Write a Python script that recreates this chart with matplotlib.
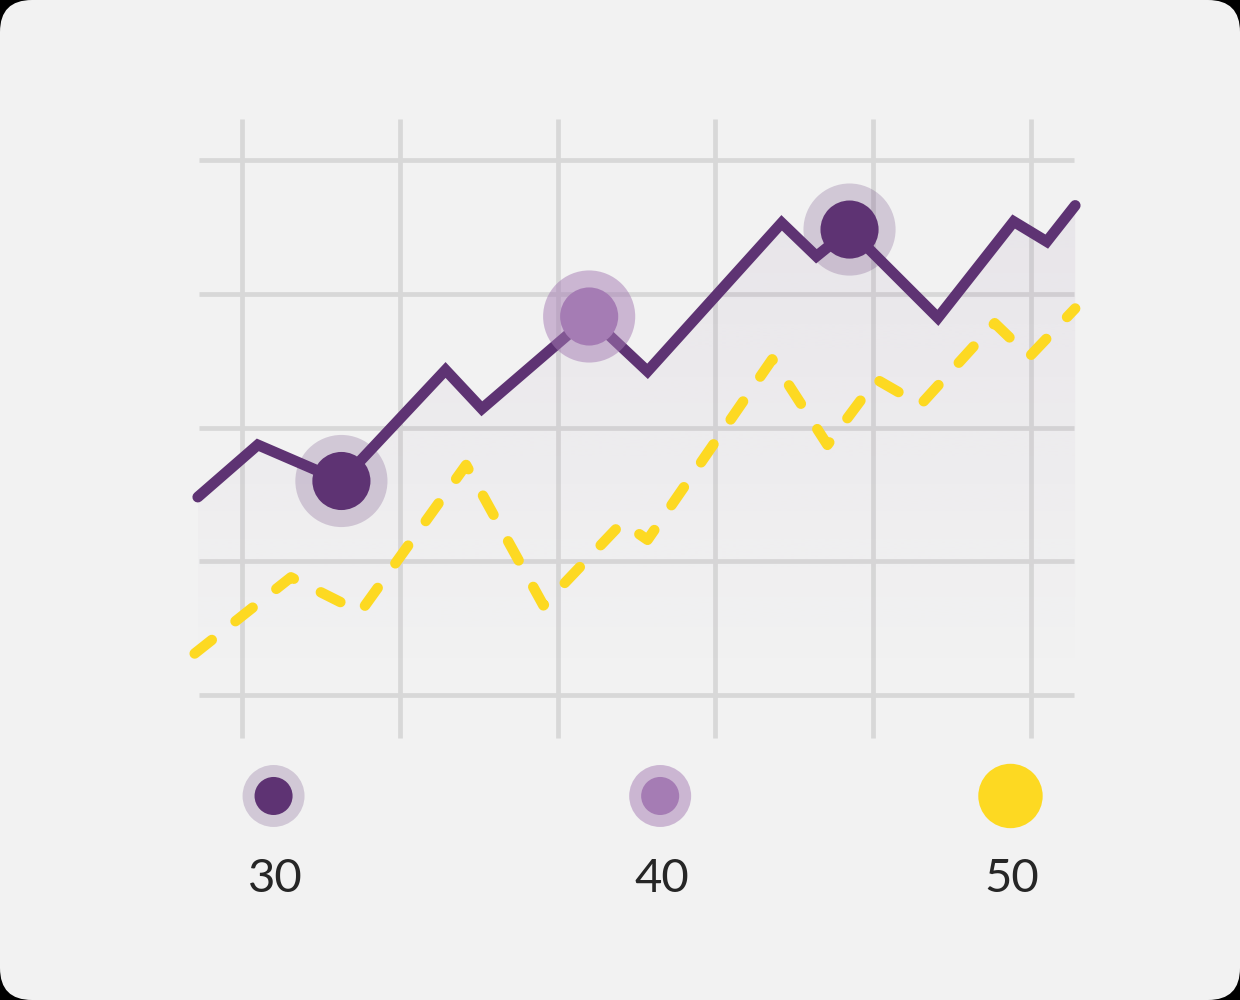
import matplotlib
matplotlib.use("Agg")
import matplotlib.pyplot as plt
import numpy as np
from matplotlib.patches import FancyBboxPatch, Polygon

# ---- data (grid units: x column index, y row index) ----
purple_x = [-0.28, 0.10, 0.63, 1.29, 1.52, 2.20, 2.57, 3.42, 3.64, 3.85, 4.41, 4.89, 5.10, 5.28]
purple_y = [1.48, 1.87, 1.60, 2.43, 2.14, 2.83, 2.42, 3.53, 3.28, 3.48, 2.82, 3.54, 3.39, 3.66]
yellow_x = [-0.30, 0.31, 0.75, 1.42, 1.91, 2.41, 2.57, 3.36, 3.71, 4.02, 4.30, 4.77, 4.99, 5.28]
yellow_y = [0.31, 0.88, 0.62, 1.72, 0.67, 1.29, 1.16, 2.51, 1.87, 2.36, 2.17, 2.78, 2.53, 2.89]
highlight_idx = [2, 5, 9]
highlight_kind = ["dark", "light", "dark"]
legend_labels = ["30", "40", "50"]
legend_x = [0.20, 2.65, 4.87]
legend_kind = ["dark", "light", "yellow"]
grid_x = [0, 1, 2, 3, 4, 5]
grid_y = [0, 1, 2, 3, 4]

DARK = "#5e3373"
LIGHT = "#a57cb4"
YELLOW = "#fdd922"
GRID = "#d8d8d8"
BG = "#f2f2f2"

fig = plt.figure(figsize=(12.4, 10), dpi=100, facecolor="black")
bg = FancyBboxPatch((0, 0), 12.4, 10, boxstyle="round,pad=0,rounding_size=0.32",
                    transform=fig.dpi_scale_trans, facecolor=BG, edgecolor="none", zorder=-10)
fig.patches.append(bg)

ax = fig.add_axes([0, 0, 1, 1], zorder=1)
ax.set_facecolor("none")
ax.set_xlim(-242 / 157.8, (1240 - 242) / 157.8)
ax.set_ylim(-305 / 133.75, 695 / 133.75)
ax.axis("off")

# grid
for gx in grid_x:
    ax.plot([gx, gx], [-0.32, 4.31], color=GRID, lw=3.4, solid_capstyle="butt", zorder=1)
for gy in grid_y:
    ax.plot([-0.27, 5.27], [gy, gy], color=GRID, lw=3.4, solid_capstyle="butt", zorder=1)

# gradient fill under purple line
verts = list(zip(purple_x, purple_y)) + [(purple_x[-1], 0.0), (purple_x[0], 0.0)]
poly = Polygon(verts, closed=True, facecolor="none", edgecolor="none")
ax.add_patch(poly)
grad = np.linspace(0, 1, 256).reshape(-1, 1)
rgba = np.zeros((256, 1, 4))
c = matplotlib.colors.to_rgb(DARK)
rgba[..., 0], rgba[..., 1], rgba[..., 2] = c
rgba[..., 3] = 0.07 * grad[:, :] ** 1.1
im = ax.imshow(rgba, extent=[purple_x[0], purple_x[-1], 0.0, 3.7], origin="lower",
               aspect="auto", zorder=1.5, interpolation="bilinear")
im.set_clip_path(poly)

# yellow dashed line
ax.plot(yellow_x, yellow_y, color=YELLOW, lw=7.5, linestyle=(0, (2.1, 2.9)),
        dash_capstyle="round", dash_joinstyle="round", zorder=2)

# purple line
ax.plot(purple_x, purple_y, color=DARK, lw=7.8, solid_capstyle="round",
        solid_joinstyle="miter", zorder=3)

# highlight markers
for i, kind in zip(highlight_idx, highlight_kind):
    col = DARK if kind == "dark" else LIGHT
    halo_alpha = 0.22 if kind == "dark" else 0.5
    ax.scatter([purple_x[i]], [purple_y[i]], s=4400, color=col, alpha=halo_alpha,
               edgecolors="none", zorder=4)
    ax.scatter([purple_x[i]], [purple_y[i]], s=1750, color=col, edgecolors="none", zorder=5)

# legend row
ly = -0.755
for lx, kind, lab in zip(legend_x, legend_kind, legend_labels):
    if kind == "yellow":
        ax.scatter([lx], [ly], s=2150, color=YELLOW, edgecolors="none", zorder=5)
    else:
        col = DARK if kind == "dark" else LIGHT
        ha = 0.22 if kind == "dark" else 0.5
        ax.scatter([lx], [ly], s=1990, color=col, alpha=ha, edgecolors="none", zorder=4)
        ax.scatter([lx], [ly], s=750, color=col, edgecolors="none", zorder=5)
    ax.text(lx + 0.01, ly - 0.62, lab, ha="center", va="center", fontsize=34,
            color="#262626", family=["Lato", "DejaVu Sans"], zorder=6)

fig.savefig("out.png", dpi=100, facecolor="black")
